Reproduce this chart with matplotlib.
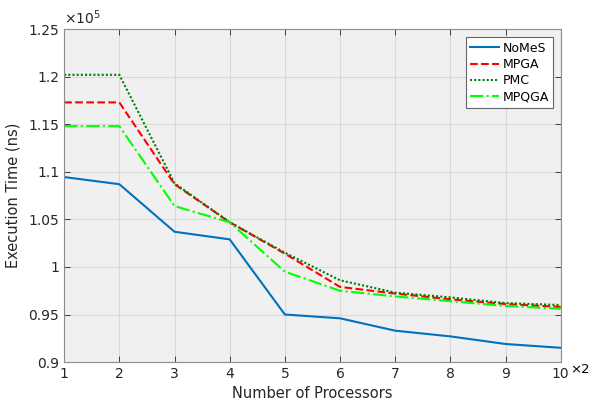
import numpy as np
import matplotlib
matplotlib.use("Agg")
import matplotlib.pyplot as plt

# number of processors (x10^2) and execution time (x10^5 ns)
procs = [1, 2, 3, 4, 5, 6, 7, 8, 9, 10]
nomes = [1.0945, 1.087, 1.037, 1.029, 0.950, 0.946, 0.933, 0.927, 0.919, 0.915]
mpga = [1.173, 1.173, 1.087, 1.047, 1.014, 0.979, 0.972, 0.966, 0.961, 0.958]
pmc = [1.202, 1.202, 1.088, 1.047, 1.015, 0.986, 0.973, 0.968, 0.962, 0.960]
mpqga = [1.148, 1.148, 1.064, 1.047, 0.995, 0.975, 0.969, 0.964, 0.959, 0.956]

yticks = [0.9, 0.95, 1.0, 1.05, 1.1, 1.15, 1.2, 1.25]
ylabels = ["0.9", "0.95", "1", "1.05", "1.1", "1.15", "1.2", "1.25"]

plt.rcParams['font.family'] = ['DejaVu Sans']
fig = plt.figure(figsize=(5.94, 4.05), dpi=100)
ax = fig.add_axes([0.108, 0.106, 0.836, 0.822])
ax.set_facecolor('#f0f0f0')

ax.plot(procs, nomes, '-', color='#0072BD', lw=1.5, label='NoMeS')
ax.plot(procs, mpga, '--', color='#ff0000', lw=1.5, label='MPGA')
ax.plot(procs, pmc, color='#008000', lw=1.5, dashes=(1, 1), label='PMC')
ax.plot(procs, mpqga, '-.', color='#00ff00', lw=1.5, label='MPQGA')

ax.set_xlim(1, 10)
ax.set_ylim(0.9, 1.25)
ax.set_xticks(procs)
ax.set_yticks(yticks)
ax.set_yticklabels(ylabels)
ax.grid(True, color='#d9d9d9', lw=0.8)
ax.set_axisbelow(True)
ax.tick_params(direction='in', top=True, right=True, colors='#262626',
               labelsize=10, length=4, width=0.6)
for s in ax.spines.values():
    s.set_color('#8c8c8c')
    s.set_linewidth(0.8)

ax.set_xlabel('Number of Processors', fontsize=10.5, color='#262626', labelpad=4)
ax.set_ylabel('Execution Time (ns)', fontsize=10.5, color='#262626', labelpad=6)

ax.text(0.0, 1.005, r'$\times 10^5$', transform=ax.transAxes, fontsize=10,
        color='#262626', ha='left', va='bottom')
ax.text(1.02, -0.004, '×2', transform=ax.transAxes, fontsize=9.5,
        color='black', ha='left', va='top')

leg = ax.legend(loc='upper right', bbox_to_anchor=(0.985, 0.975), fontsize=9,
                fancybox=False, framealpha=1, edgecolor='#666666',
                handlelength=2.3, handletextpad=0.3, borderpad=0.35,
                labelspacing=0.25, borderaxespad=0.0)
leg.get_frame().set_linewidth(0.8)

fig.savefig('out.png', dpi=100)
